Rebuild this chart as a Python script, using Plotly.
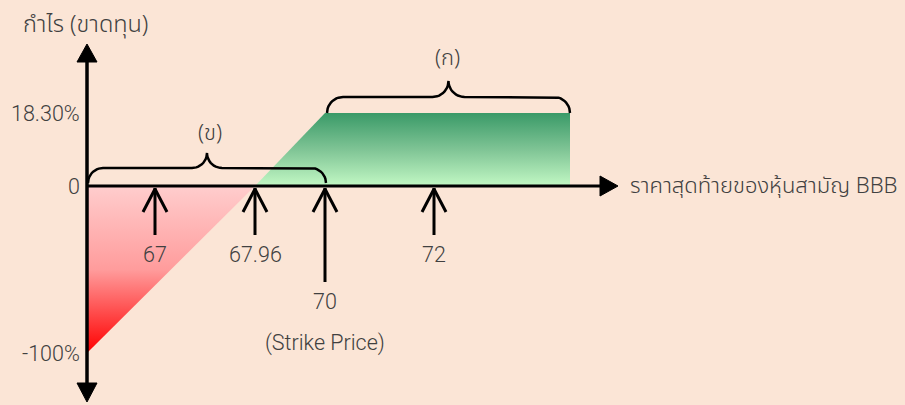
import numpy as np
import plotly.graph_objects as go

# Schematic payoff diagram: the axes are not to scale, so every level gets a
# position along its axis (in axis units) next to the label it carries.
price_labels = ["67", "67.96", "70", "72"]
price_x = [68, 168, 238, 347]          # spots on the price axis
arrow_len = [47, 47, 94, 47]           # length of each marker arrow
profit_labels = ["18.30%", "0", "-100%"]
profit_y = [73, 0, -167]               # spots on the profit axis
gain_end_x = 483                       # where the shaded gain zone stops
axis_end_x = 531                       # tip of the price axis arrow

y_title = "กำไร (ขาดทุน)"
x_title = "ราคาสุดท้ายของหุ้นสามัญ BBB"

BG = "#FBE5D6"
INK = "#404040"
LATIN = dict(family="Roboto, Noto Sans, sans-serif", size=21.5, color=INK, weight=300)
THAI = dict(family="Noto Sans Thai, Noto Sans, sans-serif", size=22, color=INK, weight=300)

breakeven = price_x[1]
strike = price_x[2]
max_gain = profit_y[0]
max_loss = profit_y[2]

fig = go.Figure()

# loss zone (red triangle, fades to pink towards zero)
fig.add_trace(go.Scatter(
    x=[0, 0, breakeven, 0], y=[0, max_loss, 0, 0],
    mode="none", fill="toself",
    fillgradient=dict(type="vertical", start=max_loss, stop=0,
                      colorscale=[[0, "#FF0000"], [0.5, "#FF9C9C"], [1, "#FFCDCD"]]),
    hoverinfo="skip", showlegend=False))

# gain zone (green, dark at the cap)
fig.add_trace(go.Scatter(
    x=[breakeven, strike, gain_end_x, gain_end_x, breakeven],
    y=[0, max_gain, max_gain, 0, 0],
    mode="none", fill="toself",
    fillgradient=dict(type="vertical", start=0, stop=max_gain,
                      colorscale=[[0, "#C2F8C4"], [0.5, "#7FC495"], [1, "#3A9A68"]]),
    hoverinfo="skip", showlegend=False))


def add_line(xs, ys, width=3):
    fig.add_trace(go.Scatter(x=xs, y=ys, mode="lines",
                             line=dict(color="black", width=width),
                             hoverinfo="skip", showlegend=False))


def add_tri(xs, ys):
    fig.add_trace(go.Scatter(x=xs, y=ys, mode="lines", fill="toself",
                             fillcolor="black", line=dict(color="black", width=1),
                             hoverinfo="skip", showlegend=False))


# axes
add_line([0, axis_end_x - 16], [0, 0], 3)
add_tri([axis_end_x - 18, axis_end_x, axis_end_x - 18, axis_end_x - 18], [10, 0, -10, 10])
add_line([0, 0], [126, -199], 3.5)
add_tri([-10, 0, 10, -10], [124, 142, 124, 124])
add_tri([-10, 0, 10, -10], [-197, -216, -197, -197])


def brace(x0, x1, yb, r=15):
    xm = (x0 + x1) / 2
    t = np.linspace(0, np.pi / 2, 12)
    xs, ys = [], []
    # left end curling up into the bar
    xs += list(x0 + r - r * np.cos(t)); ys += list(yb + r * np.sin(t))
    # bar up to the middle, curl up to the tip and back down
    xs += list(xm - r + r * np.sin(t)); ys += list(yb + 2 * r - r * np.cos(t))
    xs += list(xm + r - r * np.cos(t)); ys += list(yb + 2 * r - r * np.sin(t))
    # right end curling down
    xs += list(x1 - r + r * np.sin(t)); ys += list(yb + r * np.cos(t))
    return xs, ys


bx, by = brace(1, strike + 1, 3)
add_line(bx, by, 2.5)
bx, by = brace(strike + 2, gain_end_x, max_gain, 16)
add_line(bx, by, 2.5)

# price marker arrows
for px, ln in zip(price_x, arrow_len):
    add_line([px, px], [-2, -2 - ln], 3)
    add_line([px - 12, px, px + 12], [-26, -3, -26], 3)

for lab, px, ln in zip(price_labels, price_x, arrow_len):
    fig.add_annotation(x=px, y=-2 - ln - 19, text=lab, showarrow=False, font=LATIN)
fig.add_annotation(x=strike, y=-157, text="(Strike Price)", showarrow=False, font=LATIN)

for lab, py in zip(profit_labels, profit_y):
    fig.add_annotation(x=-5, y=py, text=lab, xanchor="right", showarrow=False, font=LATIN)

fig.add_annotation(x=-2, y=161, text=y_title, showarrow=False, font={**THAI, "size": 23.5})
fig.add_annotation(x=axis_end_x + 10, y=0, text=x_title, xanchor="left",
                   showarrow=False, font=THAI)
fig.add_annotation(x=(strike + 2) / 2 + 3, y=53, text="(ข)", showarrow=False, font=THAI)
fig.add_annotation(x=(strike + gain_end_x) / 2, y=128, text="(ก)", showarrow=False, font=THAI)

fig.update_layout(
    width=905, height=405,
    margin=dict(l=0, r=0, t=0, b=0),
    paper_bgcolor=BG, plot_bgcolor=BG,
    xaxis=dict(range=[-87, 818], visible=False, fixedrange=True),
    yaxis=dict(range=[-219, 186], visible=False, fixedrange=True),
    showlegend=False,
)

fig.write_html("out.html", config={"displayModeBar": False},
               post_script="document.body.style.margin='0';")
